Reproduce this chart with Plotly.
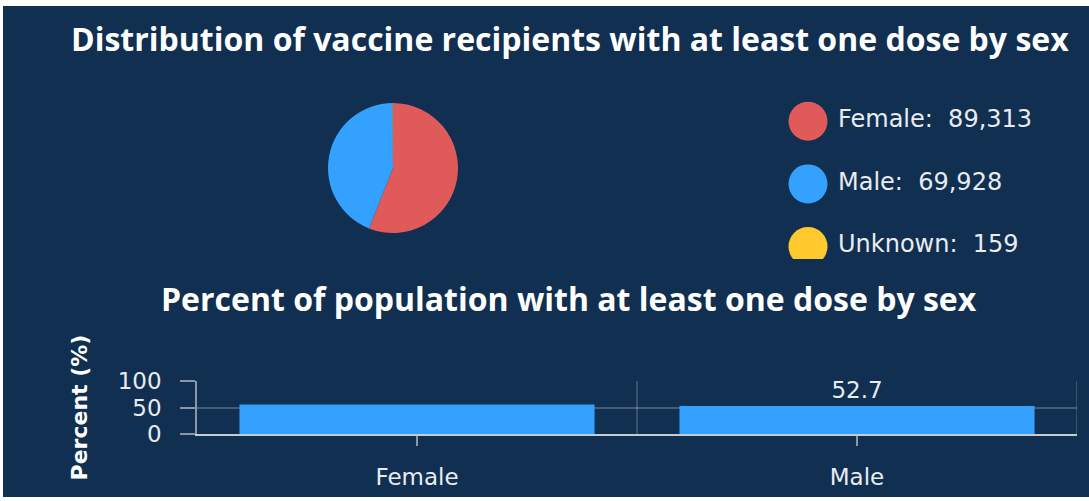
import plotly.graph_objects as go

# ---- data ----
sexes = ["Female", "Male", "Unknown"]
recipients = [89313, 69928, 159]
pie_colors = ["#E05A5A", "#33A1FD", "#FFC82C"]

bar_categories = ["Female", "Male"]
bar_percent = [55.5, 52.7]
bar_label_shown = [False, True]
y_ticks = [0, 50, 100]

title_top = "Distribution of vaccine recipients with at least one dose by sex"
title_bottom = "Percent of population with at least one dose by sex"
y_title = "Percent (%)"

BG = "#112F50"
W, H = 1089, 501
TFONT = "Open Sans"
FONT = "DejaVu Sans"
TXT = "#E8ECF0"
GRID = "rgba(255,255,255,0.22)"


def px_x(p):
    return p / W


def px_y(p):
    return 1 - p / H


fig = go.Figure()

# Pie
fig.add_trace(go.Pie(
    labels=sexes, values=recipients, sort=False, direction="clockwise",
    rotation=0, marker=dict(colors=pie_colors, line=dict(width=0)),
    textinfo="none", hoverinfo="label+value", showlegend=False,
    domain=dict(x=[px_x(328), px_x(458)], y=[px_y(233), px_y(103)]),
))

# Custom legend (markers + text) on its own axes
rows = list(range(len(sexes)))
fig.add_trace(go.Scatter(
    x=[0] * len(sexes), y=rows, mode="markers",
    marker=dict(size=39, color=pie_colors, line=dict(width=0)),
    xaxis="x2", yaxis="y2", showlegend=False, hoverinfo="skip",
    cliponaxis=True,
))
fig.add_trace(go.Scatter(
    x=[30] * len(sexes), y=rows, mode="text",
    text=[f"{s}:\u00a0 {v:,}" for s, v in zip(sexes, recipients)],
    textposition="middle right",
    textfont=dict(family=FONT, size=24, color=TXT),
    xaxis="x2", yaxis="y2", showlegend=False, hoverinfo="skip",
    cliponaxis=True,
))

# Bar chart
fig.add_trace(go.Bar(
    x=bar_categories, y=bar_percent, width=0.807,
    marker=dict(color="#33A1FD", line=dict(width=0)),
    text=[f"{v}" if s else "" for v, s in zip(bar_percent, bar_label_shown)],
    textposition="outside", cliponaxis=False,
    textfont=dict(family=FONT, size=23, color=TXT),
    showlegend=False, xaxis="x", yaxis="y",
))

fig.update_layout(
    width=W, height=H,
    margin=dict(l=0, r=0, t=0, b=0, autoexpand=False),
    paper_bgcolor=BG, plot_bgcolor=BG,
    font=dict(family=FONT, color=TXT),
    xaxis=dict(
        domain=[px_x(197), px_x(1077)], type="category",
        range=[-0.5, 1.5], automargin=False,
        showgrid=False, zeroline=False,
        showline=True, linecolor="#C4CCD4", linewidth=2,
        ticks="outside", ticklen=10, tickwidth=1.5, tickcolor="#8A97A5",
        tickfont=dict(family=FONT, size=23, color=TXT),
        ticklabelstandoff=11,
    ),
    yaxis=dict(
        domain=[px_y(434), px_y(381)], range=[0, 100], automargin=False,
        tickvals=y_ticks,
        showgrid=True, gridcolor=GRID, gridwidth=1.5,
        zeroline=False,
        showline=True, linecolor="#8A97A5", linewidth=1.5,
        ticks="outside", ticklen=15, tickwidth=1.5, tickcolor="#8A97A5",
        tickfont=dict(family=FONT, size=23, color=TXT),
        ticklabelstandoff=14,
        title=dict(text=y_title, standoff=24,
                   font=dict(family=FONT, size=22, color="#FFFFFF", weight=700)),
    ),
    xaxis2=dict(domain=[px_x(780), 1.0], range=[-28, 281], visible=False,
                fixedrange=True, automargin=False),
    yaxis2=dict(domain=[px_y(259), px_y(90)], range=[2.2, -0.5],
                visible=False, fixedrange=True, automargin=False),
    annotations=[
        dict(text=title_top, x=px_x(570), y=px_y(38), xref="paper", yref="paper",
             xanchor="center", yanchor="middle", showarrow=False,
             font=dict(family=TFONT, size=32, color="#FFFFFF", weight=700)),
        dict(text=title_bottom, x=px_x(569), y=px_y(298), xref="paper", yref="paper",
             xanchor="center", yanchor="middle", showarrow=False,
             font=dict(family=TFONT, size=32, color="#FFFFFF", weight=700)),
    ],
    shapes=[
        # category boundary and right border
        dict(type="line", xref="x", yref="y", x0=0.5, x1=0.5, y0=0, y1=100,
             line=dict(color=GRID, width=1.5), layer="below"),
        dict(type="line", xref="x", yref="y", x0=1.5, x1=1.5, y0=0, y1=100,
             line=dict(color=GRID, width=1.5), layer="below"),
        # white page margins
        dict(type="rect", xref="paper", yref="paper", x0=0, x1=1, y0=px_y(6), y1=1,
             fillcolor="#FFFFFF", line=dict(width=0), layer="above"),
        dict(type="rect", xref="paper", yref="paper", x0=0, x1=px_x(3), y0=0, y1=1,
             fillcolor="#FFFFFF", line=dict(width=0), layer="above"),
        dict(type="rect", xref="paper", yref="paper", x0=0, x1=1, y0=0, y1=px_y(497),
             fillcolor="#FFFFFF", line=dict(width=0), layer="above"),
    ],
)

fig.write_html(
    "out.html",
    config={"displayModeBar": False},
    post_script="document.body.style.margin='0';document.body.style.overflow='hidden';",
)
